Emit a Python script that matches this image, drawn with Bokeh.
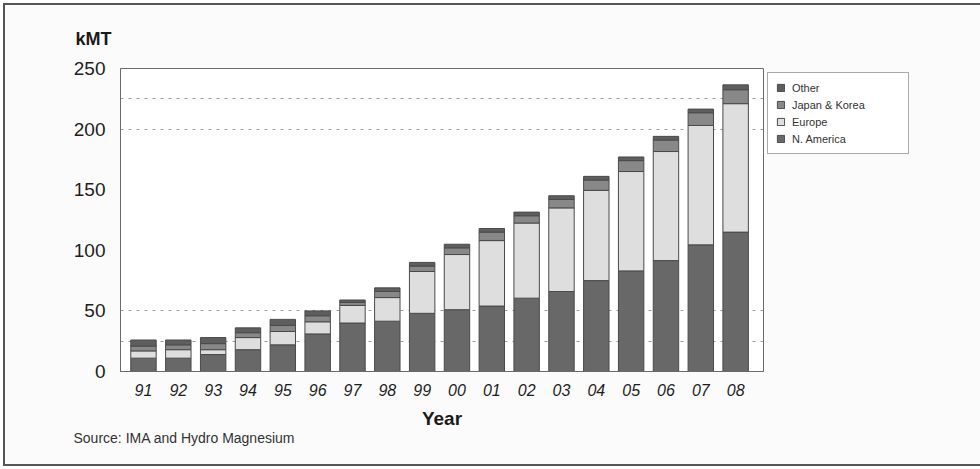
from bokeh.plotting import figure
from bokeh.layouts import column
from bokeh.models import Range1d, FixedTicker, Legend, LegendItem, Title
from bokeh.embed import file_html
from bokeh.resources import INLINE

# Magnesium consumption by region, thousand metric tonnes
years = ["91", "92", "93", "94", "95", "96", "97", "98", "99",
         "00", "01", "02", "03", "04", "05", "06", "07", "08"]
n_america = [11, 11, 14, 18, 22, 31, 40, 41.5, 48, 51, 54, 60.5, 66, 75, 83, 91.5, 104.5, 115]
europe = [6, 7, 4, 10, 11, 10, 14.5, 19.5, 34.5, 45.5, 54, 62, 69, 74.5, 82, 90, 98.5, 106]
japan_korea = [4, 4, 5, 4, 5, 5, 2.5, 5, 4.5, 5.5, 7, 6, 7, 8.5, 9, 9.5, 10.5, 11.5]
other = [5, 4, 5, 4, 5, 4, 2, 3, 3, 3, 3, 3, 3, 3, 3, 3, 3, 4]
y_ticks = [0, 50, 100, 150, 200, 250]
grid_levels = [25, 50, 200, 225]

series = ["n_america", "europe", "japan_korea", "other"]
names = {"n_america": "N. America", "europe": "Europe",
         "japan_korea": "Japan & Korea", "other": "Other"}
colors = {"n_america": "#686868", "europe": "#dedede",
          "japan_korea": "#888888", "other": "#5e5e5e"}

xs = list(range(len(years)))
data = dict(x=xs, n_america=n_america, europe=europe,
            japan_korea=japan_korea, other=other)

p = figure(frame_width=643, frame_height=303, output_backend="svg", toolbar_location=None,
           x_range=Range1d(-0.66, len(years) - 1 + 0.8), y_range=Range1d(0, 250),
           min_border_left=115, min_border_right=212,
           min_border_top=63, min_border_bottom=93)
p.background_fill_color = "white"
p.border_fill_color = "#fbfbfb"
p.outline_line_color = "#6a6a6a"
p.outline_line_width = 1

renderers = p.vbar_stack(series, x="x", width=0.73, source=data,
                         color=[colors[s] for s in series],
                         line_color="#4a4a4a", line_width=1)

# axes
p.xaxis.ticker = FixedTicker(ticks=xs)
p.xaxis.major_label_overrides = {i: y for i, y in enumerate(years)}
p.xaxis.major_label_text_font = "Liberation Sans"
p.xaxis.major_label_text_font_style = "italic"
p.xaxis.major_label_text_font_size = "16px"
p.xaxis.major_label_text_color = "#1e1e1e"
p.xaxis.major_tick_line_color = None
p.xaxis.minor_tick_line_color = None
p.xaxis.axis_line_color = "#6a6a6a"
p.xaxis.major_label_standoff = 6
p.xaxis.axis_label = "Year"
p.xaxis.axis_label_text_font = "Liberation Sans"
p.xaxis.axis_label_text_font_style = "bold"
p.xaxis.axis_label_text_font_size = "19px"
p.xaxis.axis_label_text_color = "#1a1a1a"
p.xaxis.axis_label_standoff = 9

p.yaxis.ticker = FixedTicker(ticks=y_ticks)
p.yaxis.major_label_text_font = "Liberation Sans"
p.yaxis.major_label_text_font_size = "19px"
p.yaxis.major_label_text_color = "#1e1e1e"
p.yaxis.major_tick_line_color = None
p.yaxis.minor_tick_line_color = None
p.yaxis.axis_line_color = "#6a6a6a"
p.yaxis.major_label_standoff = 9

p.xgrid.grid_line_color = None
p.ygrid.ticker = FixedTicker(ticks=grid_levels)
p.ygrid.grid_line_color = "#9a9a9a"
p.ygrid.grid_line_dash = "3 5"
p.ygrid.grid_line_width = 1

# legend beside the frame, top entry first
items = [LegendItem(label=names[s], renderers=[r])
         for s, r in zip(series, renderers)][::-1]
legend = Legend(items=items, location="top_left",
                label_text_font="Liberation Sans", label_text_font_size="11px",
                label_text_color="#333333", glyph_width=9, glyph_height=9,
                label_height=13, label_width=108, spacing=4, padding=8,
                margin=4, label_standoff=7,
                border_line_color="#555555", border_line_width=1,
                background_fill_color="white")
p.add_layout(legend, "right")

# unit title above the axis
p.title = Title(text="kMT", align="left", offset=-45, standoff=39,
                text_font="Liberation Sans", text_font_style="bold",
                text_font_size="18px", text_color="#1a1a1a")

# source note
p.add_layout(Title(text="Source: IMA and Hydro Magnesium", align="left", offset=-47,
                   standoff=-8, text_font="Liberation Sans", text_font_style="normal",
                   text_font_size="14px", text_color="#333333"), "below")

# thin frame round the whole chart
page = column(p, styles={"border": "2px solid #555555", "margin": "3px",
                         "background-color": "#fbfbfb"})

open("out.html", "w").write(file_html(page, INLINE))
